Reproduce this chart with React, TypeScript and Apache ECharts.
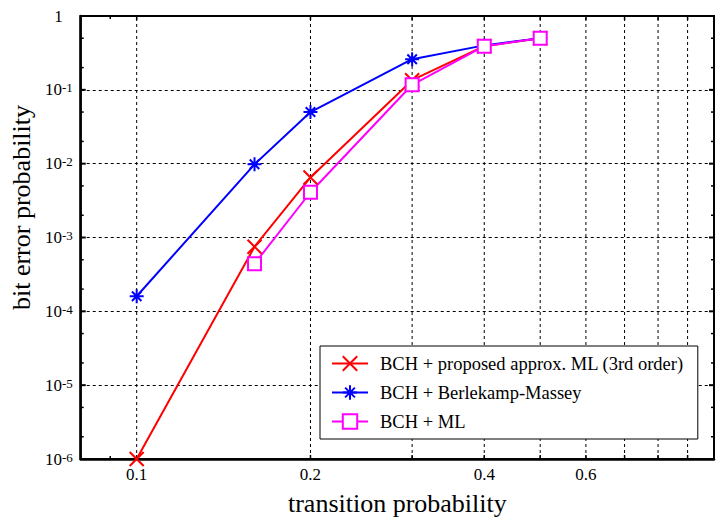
import React, { useEffect, useRef } from 'react';
import * as echarts from 'echarts';

const FONT = '"Liberation Serif", "Times New Roman", serif';

// x values (transition probability)
const transitionProb = [0.1, 0.16, 0.2, 0.3, 0.4, 0.5];
// bit error probability per method
const berApproxML = [1e-6, 7.5e-4, 6.5e-3, 0.135, 0.39, 0.5];
const berBerlekamp = [1.6e-4, 9.8e-3, 0.05, 0.26, 0.4, 0.5];
const berML: (number | null)[] = [null, 4.4e-4, 4.1e-3, 0.117, 0.39, 0.5];

const seriesNames = [
  'BCH + proposed approx. ML (3rd order)',
  'BCH + Berlekamp-Massey',
  'BCH + ML',
];

// axis ticks / grid
const xTickLabels = [0.1, 0.2, 0.4, 0.6];
const xGridValues = [0.1, 0.2, 0.3, 0.4, 0.5, 0.6, 0.7, 0.8, 0.9];
const xMinorTicks = [0.09];
const yMinorTicks = [2e-6, 5e-6, 2e-5, 5e-5, 2e-4, 5e-4, 2e-3, 5e-3, 0.02, 0.05, 0.2, 0.5];
const yMajorTicks = [1e-6, 1e-5, 1e-4, 1e-3, 1e-2, 0.1, 1];

const X_MIN = 0.08;
const X_MAX = 1;
const Y_MIN = 1e-6;
const Y_MAX = 1;

const pairs = (ys: (number | null)[]) =>
  transitionProb
    .map((x, i) => [x, ys[i]])
    .filter((p) => p[1] !== null) as number[][];

const X_MARK = 'path://M0,0L10,10M10,0L0,10';
const STAR_MARK = 'path://M5,0L5,10M0,5L10,5M1.6,1.6L8.4,8.4M8.4,1.6L1.6,8.4';

export default function App() {
  const ref = useRef<HTMLDivElement>(null);

  useEffect(() => {
    if (!ref.current) return;
    const chart = echarts.init(ref.current, undefined, { renderer: 'svg' });

    const lineTick = (x1: number, y1: number, x2: number, y2: number, w = 1.5) => ({
      type: 'line',
      shape: { x1, y1, x2, y2 },
      style: { stroke: '#000', lineWidth: w },
    });

    const option: any = {
      animation: false,
      backgroundColor: '#fff',
      grid: {
        left: 79,
        right: 2,
        top: 16,
        bottom: 56,
        show: true,
        borderColor: '#000',
        borderWidth: 2,
        backgroundColor: 'transparent',
      },
      legend: {
        data: seriesNames,
        orient: 'vertical',
        left: 320,
        top: 346,
        backgroundColor: '#fff',
        borderColor: '#000',
        borderWidth: 1,
        borderRadius: 0,
        padding: [8, 14, 8, 11],
        itemGap: 10,
        itemWidth: 36,
        itemHeight: 18,
        selectedMode: false,
        textStyle: { fontSize: 18.5, fontFamily: FONT, color: '#000', padding: [0, 0, 0, 7] },
      },
      xAxis: {
        type: 'log',
        logBase: 10,
        min: X_MIN,
        max: X_MAX,
        axisLine: { show: true, onZero: false, lineStyle: { color: '#000', width: 2.5 } },
        axisTick: { show: false },
        axisLabel: { show: false },
        splitLine: { show: false },
        name: 'transition probability',
        nameLocation: 'middle',
        nameGap: 31,
        nameTextStyle: { fontSize: 26, fontFamily: FONT, color: '#000' },
      },
      yAxis: {
        type: 'log',
        logBase: 10,
        min: Y_MIN,
        max: Y_MAX,
        interval: 1,
        axisLine: { show: true, onZero: false, lineStyle: { color: '#000', width: 2.5 } },
        axisTick: { show: false },
        splitLine: { show: true, lineStyle: { color: '#000', width: 1, type: [3, 3] } },
        axisLabel: {
          margin: 8,
          formatter: (v: number) =>
            v >= 0.999 ? '{one|1}' : '{b|10}{s|' + Math.round(Math.log10(v)) + '}',
          rich: {
            one: { fontSize: 17, fontFamily: FONT, color: '#000', padding: [0, 10, 0, 0] },
            b: { fontSize: 17, fontFamily: FONT, color: '#000', lineHeight: 17, verticalAlign: 'bottom' },
            s: {
              fontSize: 13,
              fontFamily: FONT,
              color: '#000',
              lineHeight: 13,
              verticalAlign: 'top',
              padding: [0, 0, 6, 0],
            },
          },
        },
        name: 'bit error probability',
        nameLocation: 'middle',
        nameGap: 42,
        nameTextStyle: { fontSize: 26, fontFamily: FONT, color: '#000', padding: [0, 0, 0, 60] },
      },
      series: [
        {
          type: 'custom',
          name: 'xGrid',
          coordinateSystem: 'cartesian2d',
          silent: true,
          z: 1,
          encode: { x: 0, y: 1 },
          data: xGridValues.map((v) => [v, Y_MIN]),
          renderItem: (_p: any, api: any) => {
            const v = api.value(0);
            const b = api.coord([v, Y_MIN]);
            const t = api.coord([v, Y_MAX]);
            return {
              type: 'group',
              children: [
                {
                  type: 'line',
                  shape: { x1: b[0], y1: b[1], x2: t[0], y2: t[1] },
                  style: { stroke: '#000', lineWidth: 1, lineDash: [3, 3] },
                },
                lineTick(b[0], b[1], b[0], b[1] - 4),
                lineTick(t[0], t[1], t[0], t[1] + 4),
              ],
            };
          },
        },
        {
          type: 'custom',
          name: 'xMinor',
          coordinateSystem: 'cartesian2d',
          silent: true,
          z: 1,
          encode: { x: 0, y: 1 },
          data: xMinorTicks.map((v) => [v, Y_MIN]),
          renderItem: (_p: any, api: any) => {
            const v = api.value(0);
            const b = api.coord([v, Y_MIN]);
            const t = api.coord([v, Y_MAX]);
            return {
              type: 'group',
              children: [lineTick(b[0], b[1], b[0], b[1] - 3), lineTick(t[0], t[1], t[0], t[1] + 3)],
            };
          },
        },
        {
          type: 'custom',
          name: 'xLabels',
          coordinateSystem: 'cartesian2d',
          silent: true,
          clip: false,
          z: 1,
          encode: { x: 0, y: 1 },
          data: xTickLabels.map((v) => [v, Y_MIN]),
          renderItem: (_p: any, api: any) => {
            const v = api.value(0);
            const b = api.coord([v, Y_MIN]);
            return {
              type: 'text',
              x: b[0],
              y: b[1] + 7,
              style: {
                text: String(v),
                fontSize: 17,
                fontFamily: FONT,
                fill: '#000',
                align: 'center',
                verticalAlign: 'top',
              },
            };
          },
        },
        {
          type: 'custom',
          name: 'yMinor',
          coordinateSystem: 'cartesian2d',
          silent: true,
          z: 1,
          encode: { x: 0, y: 1 },
          data: yMinorTicks.map((v) => [X_MIN, v]),
          renderItem: (_p: any, api: any) => {
            const v = api.value(1);
            const l = api.coord([X_MIN, v]);
            const r = api.coord([X_MAX, v]);
            return {
              type: 'group',
              children: [lineTick(l[0], l[1], l[0] + 3, l[1]), lineTick(r[0], r[1], r[0] - 3, r[1])],
            };
          },
        },
        {
          type: 'custom',
          name: 'yMajor',
          coordinateSystem: 'cartesian2d',
          silent: true,
          z: 1,
          encode: { x: 0, y: 1 },
          data: yMajorTicks.map((v) => [X_MIN, v]),
          renderItem: (_p: any, api: any) => {
            const v = api.value(1);
            const l = api.coord([X_MIN, v]);
            const r = api.coord([X_MAX, v]);
            return {
              type: 'group',
              children: [lineTick(l[0], l[1], l[0] + 5, l[1], 2), lineTick(r[0], r[1], r[0] - 5, r[1], 2)],
            };
          },
        },
        {
          type: 'line',
          name: seriesNames[0],
          data: pairs(berApproxML),
          clip: false,
          z: 3,
          symbol: X_MARK,
          symbolSize: 14,
          lineStyle: { color: '#ff0000', width: 2 },
          itemStyle: { color: '#ff0000', borderColor: '#ff0000', borderWidth: 2 },
        },
        {
          type: 'line',
          name: seriesNames[1],
          data: pairs(berBerlekamp),
          clip: false,
          z: 3,
          symbol: STAR_MARK,
          symbolSize: 14,
          lineStyle: { color: '#0000ff', width: 2 },
          itemStyle: { color: '#0000ff', borderColor: '#0000ff', borderWidth: 2 },
        },
        {
          type: 'line',
          name: seriesNames[2],
          data: pairs(berML),
          clip: false,
          z: 3,
          symbol: 'rect',
          symbolSize: 13,
          lineStyle: { color: '#ff00ff', width: 2 },
          itemStyle: { color: '#ffffff', borderColor: '#ff00ff', borderWidth: 2 },
        },
      ],
    };

    chart.setOption(option);
    return () => chart.dispose();
  }, []);

  return (
    <div
      ref={ref}
      style={{ position: 'fixed', left: 0, top: 0, width: 716, height: 521, background: '#fff' }}
    />
  );
}
